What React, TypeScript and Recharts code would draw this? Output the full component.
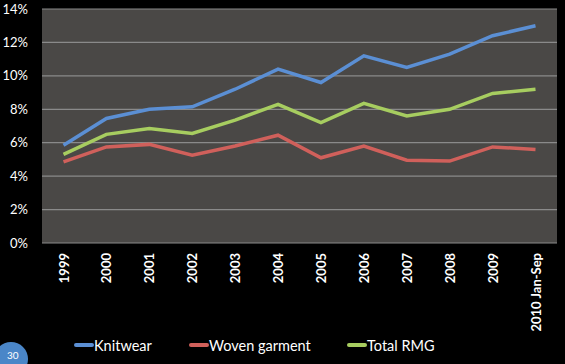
import React from 'react';
import { LineChart, Line, XAxis, YAxis, CartesianGrid, Legend } from 'recharts';

const years = ['1999', '2000', '2001', '2002', '2003', '2004', '2005', '2006', '2007', '2008', '2009', '2010 Jan-Sep'];
const knitwear = [5.85, 7.45, 8.0, 8.15, 9.2, 10.4, 9.6, 11.2, 10.5, 11.3, 12.4, 13.0];
const woven = [4.85, 5.75, 5.9, 5.25, 5.8, 6.45, 5.1, 5.8, 4.95, 4.9, 5.75, 5.6];
const total = [5.3, 6.5, 6.85, 6.55, 7.35, 8.3, 7.2, 8.35, 7.6, 8.0, 8.95, 9.2];
const yTicks = [0, 2, 4, 6, 8, 10, 12, 14];

const data = years.map((y, i) => ({ year: y, knit: knitwear[i], woven: woven[i], total: total[i] }));

const series = [
  { key: 'knit', name: 'Knitwear', color: '#5b8fd4' },
  { key: 'woven', name: 'Woven garment', color: '#d0605b' },
  { key: 'total', name: 'Total RMG', color: '#a7cd60' },
];

const FONT = 'Lato, "Open Sans", sans-serif';

const XTick = (props: any) => {
  const { x, payload } = props;
  const y = 253;
  return (
    <text
      x={x}
      y={y}
      transform={`rotate(-90, ${x}, ${y})`}
      textAnchor="end"
      dominantBaseline="central"
      fill="#ffffff"
      fontSize={13}
      fontWeight="bold"
      fontFamily={FONT}
    >
      {payload.value}
    </text>
  );
};

const legendX = [75, 190, 348];

const LegendContent = () => (
  <svg width={565} height={20} style={{ display: 'block' }}>
    {series.map((s, i) => (
      <g key={s.key}>
        <line x1={legendX[i] + 1} x2={legendX[i] + 17} y1={10} y2={10} stroke={s.color} strokeWidth={4} strokeLinecap="round" />
        <text x={legendX[i] + 19} y={10} dominantBaseline="central" fill="#ffffff" fontSize={14.5} fontFamily={FONT}>
          {s.name}
        </text>
      </g>
    ))}
  </svg>
);

export default function App() {
  return (
    <div style={{ position: 'absolute', left: 0, top: 0, width: 565, height: 364, background: '#000000', overflow: 'hidden' }}>
      <LineChart width={565} height={364} data={data} margin={{ top: 9, right: 8, left: 0, bottom: 9 }}>
        <CartesianGrid vertical={false} stroke="#8a8a8a" strokeWidth={1.2} fill="#4a4846" />
        <XAxis
          dataKey="year"
          tick={<XTick />}
          tickLine={false}
          axisLine={false}
          height={92}
          interval={0}
          padding={{ left: 21.5, right: 21.5 }}
        />
        <YAxis
          domain={[0, 14]}
          ticks={yTicks}
          tickFormatter={(v: number) => `${v}%`}
          tick={{ fill: '#ffffff', fontSize: 13, fontFamily: FONT }}
          tickLine={false}
          axisLine={false}
          width={42}
          tickMargin={8}
          interval={0}
        />
        {series.map((s) => (
          <Line
            key={s.key}
            type="linear"
            dataKey={s.key}
            name={s.name}
            stroke={s.color}
            strokeWidth={3.5}
            dot={false}
            isAnimationActive={false}
          />
        ))}
        <Legend verticalAlign="bottom" height={20} content={<LegendContent />} />
      </LineChart>
      <div
        style={{
          position: 'absolute',
          left: -6,
          top: 342,
          width: 34,
          height: 34,
          borderRadius: '50%',
          background: '#4a86c8',
          color: '#ffffff',
          fontFamily: FONT,
          fontSize: 10,
        }}
      >
        <span style={{ position: 'absolute', left: 13, top: 7 }}>30</span>
      </div>
    </div>
  );
}
